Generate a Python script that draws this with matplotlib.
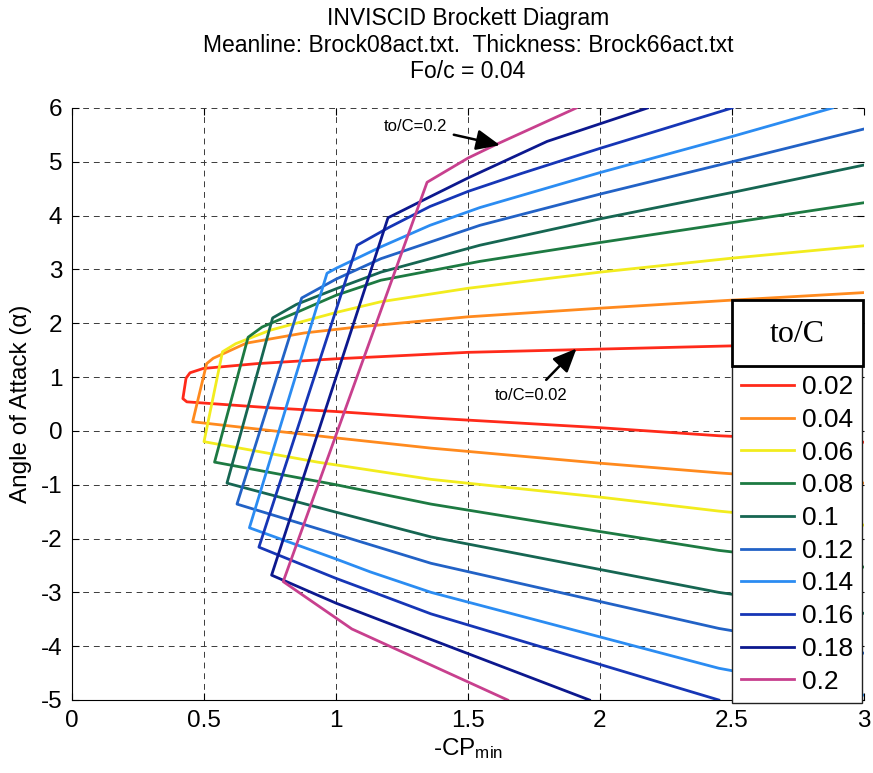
import matplotlib
matplotlib.use("Agg")
import matplotlib.pyplot as plt
from matplotlib.patches import Rectangle

plt.rcParams['font.family'] = ['Liberation Sans', 'DejaVu Sans']
plt.rcParams['mathtext.default'] = 'regular'
plt.rcParams['axes.unicode_minus'] = False

# thickness ratios and curve colours
thickness = ['0.02', '0.04', '0.06', '0.08', '0.1', '0.12', '0.14', '0.16', '0.18', '0.2']
colors = ['#ff2a1a', '#ff8a1e', '#f2ec1e', '#1d7a42', '#166652', '#2262c6',
          '#2b8cf2', '#1636b6', '#0c188e', '#c8408e']

# each bucket: upper branch (right to left), nose, lower branch (left to right)
x_002 = [3.0, 2.5, 2.0, 1.5, 1.17, 1.0, 0.7, 0.497, 0.447, 0.432, 0.42, 0.435, 0.75, 1.0, 1.36, 2.0, 2.45, 3.0]
y_002 = [1.65, 1.58, 1.52, 1.46, 1.38, 1.34, 1.25, 1.16, 1.08, 0.98, 0.60, 0.54, 0.43, 0.36, 0.24, 0.06, -0.09, -0.21]

x_004 = [3.0, 2.5, 2.0, 1.5, 1.08, 0.88, 0.66, 0.535, 0.51, 0.457, 1.0, 1.36, 2.0, 2.45, 3.0]
y_004 = [2.57, 2.43, 2.28, 2.12, 1.93, 1.82, 1.63, 1.35, 1.25, 0.17, -0.13, -0.32, -0.6, -0.78, -0.97]

x_006 = [3.0, 2.5, 2.0, 1.5, 1.17, 1.0, 0.75, 0.62, 0.57, 0.5, 0.93, 1.36, 2.0, 2.45, 3.0]
y_006 = [3.44, 3.21, 2.95, 2.65, 2.4, 2.2, 1.87, 1.62, 1.47, -0.2, -0.58, -0.9, -1.23, -1.49, -1.75]

x_008 = [3.0, 2.5, 2.0, 1.545, 1.17, 1.0, 0.85, 0.72, 0.667, 0.54, 1.0, 1.36, 2.0, 2.45, 3.0]
y_008 = [4.24, 3.87, 3.5, 3.15, 2.8, 2.52, 2.2, 1.93, 1.74, -0.58, -1.0, -1.36, -1.87, -2.22, -2.53]

x_010 = [3.0, 2.5, 2.0, 1.545, 1.17, 1.0, 0.85, 0.76, 0.587, 1.0, 1.36, 2.45, 3.0]
y_010 = [4.94, 4.43, 3.94, 3.45, 2.95, 2.64, 2.35, 2.1, -0.97, -1.51, -1.97, -3.0, -3.39]

x_012 = [3.0, 2.5, 2.0, 1.545, 1.17, 1.0, 0.87, 0.625, 1.0, 1.36, 2.45, 3.0]
y_012 = [5.61, 5.0, 4.4, 3.82, 3.2, 2.82, 2.47, -1.36, -1.92, -2.46, -3.67, -4.13]

x_014 = [2.88, 2.5, 2.0, 1.545, 1.356, 1.17, 1.0, 0.966, 0.672, 1.0, 1.13, 1.36, 2.45, 3.0]
y_014 = [6.0, 5.47, 4.8, 4.15, 3.82, 3.42, 3.02, 2.93, -1.8, -2.38, -2.62, -3.0, -4.41, -4.91]

x_016 = [2.5, 2.3, 2.0, 1.7, 1.5, 1.356, 1.2, 1.08, 0.708, 1.0, 1.17, 1.36, 2.45]
y_016 = [6.0, 5.7, 5.25, 4.78, 4.45, 4.17, 3.78, 3.45, -2.16, -2.74, -3.05, -3.4, -5.0]

x_018 = [2.18, 1.8, 1.5, 1.356, 1.197, 0.756, 1.0, 1.17, 1.96]
y_018 = [6.0, 5.38, 4.7, 4.35, 3.96, -2.68, -3.2, -3.52, -5.0]

x_020 = [1.91, 1.61, 1.5, 1.345, 0.80, 1.06, 1.65]
y_020 = [6.0, 5.33, 5.07, 4.62, -2.80, -3.68, -5.0]

curves_x = [x_002, x_004, x_006, x_008, x_010, x_012, x_014, x_016, x_018, x_020]
curves_y = [y_002, y_004, y_006, y_008, y_010, y_012, y_014, y_016, y_018, y_020]

xticks = [0, 0.5, 1, 1.5, 2, 2.5, 3]
xticklabels = ['0', '0.5', '1', '1.5', '2', '2.5', '3']
yticks = list(range(-5, 7))

W, H = 873, 773
fig = plt.figure(figsize=(W / 100, H / 100), dpi=100)
ax = fig.add_axes([72 / W, 1 - 700 / H, 792 / W, 592 / H])

handles = []
for xs, ys, col, lab in zip(curves_x, curves_y, colors, thickness):
    h, = ax.plot(xs, ys, color=col, lw=2.0, label=lab, solid_joinstyle='round')
    handles.append(h)

ax.set_xlim(0, 3)
ax.set_ylim(-5, 6)
ax.set_xticks(xticks)
ax.set_xticklabels(xticklabels)
ax.set_yticks(yticks)
ax.tick_params(direction='in', length=5, width=0.8, labelsize=17.5,
               top=True, right=True, pad=7)
ax.grid(True, color='#3a3a3a', linestyle=(0, (6, 5)), linewidth=0.7)
for side in ['top', 'right']:
    ax.spines[side].set_visible(False)
for side in ['left', 'bottom']:
    ax.spines[side].set_linewidth(0.8)

ax.set_xlabel('-CP$_{min}$', fontsize=17.5, labelpad=3)
ax.set_ylabel('Angle of Attack (α)', fontsize=17.5, labelpad=6)

fig.text(468 / W, 1 - 18 / H, 'INVISCID Brockett Diagram', ha='center', va='center', fontsize=16.5)
fig.text(468 / W, 1 - 45 / H, 'Meanline: Brock08act.txt.  Thickness: Brock66act.txt',
         ha='center', va='center', fontsize=16.5)
fig.text(468 / W, 1 - 72 / H, 'Fo/c = 0.04', ha='center', va='center', fontsize=16.5)

arrow_style = dict(arrowstyle='-|>,head_length=0.8,head_width=0.35', color='k',
                   lw=1.8, mutation_scale=18, shrinkB=0)
ax.annotate('to/C=0.2', xy=(1.621, 5.31), xytext=(1.30, 5.665),
            ha='center', va='center', fontsize=12,
            arrowprops=dict(shrinkA=3, **arrow_style))
ax.annotate('to/C=0.02', xy=(1.911, 1.53), xytext=(1.74, 0.665),
            ha='center', va='center', fontsize=12,
            arrowprops=dict(shrinkA=5, **arrow_style))

leg = ax.legend(handles=handles, loc='upper left',
                bbox_to_anchor=(732 / W, 1 - 366 / H), bbox_transform=fig.transFigure,
                borderaxespad=0, fontsize=19, handlelength=2.0, handletextpad=0.3,
                labelspacing=0.33, borderpad=0.35, fancybox=False, framealpha=1,
                edgecolor='#222222')
leg.get_frame().set_linewidth(1.0)

# title box above the legend entries
fig.add_artist(Rectangle((732 / W, 1 - 366 / H), 131 / W, 66 / H,
                         transform=fig.transFigure, facecolor='white',
                         edgecolor='black', linewidth=2.0, zorder=10))
fig.text(797 / W, 1 - 334 / H, 'to/C', ha='center', va='center', fontsize=23,
         family=['Liberation Serif', 'DejaVu Serif'], zorder=11)

fig.savefig('out.png', dpi=100)
